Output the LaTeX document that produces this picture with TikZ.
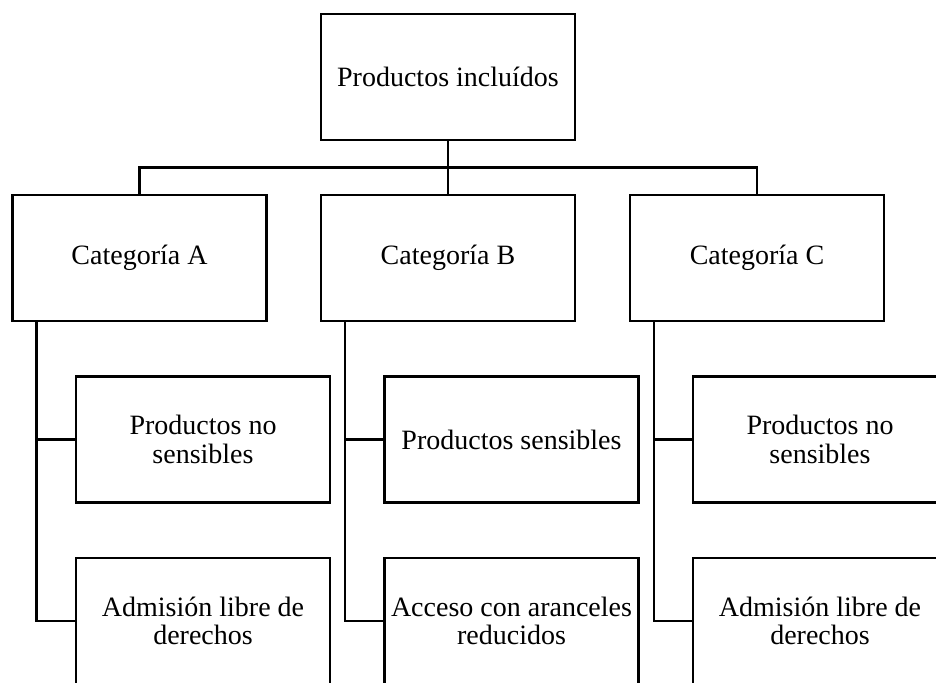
\documentclass[tikz,border=0pt]{standalone}
\usepackage{fontspec}
\setmainfont{Liberation Serif}
\begin{document}
\begin{tikzpicture}[x=1pt,y=-1pt,
  box/.style={draw=black,line width=2.4pt,fill=white,minimum width=254pt,minimum height=126pt,inner sep=0pt,align=center,font=\fontsize{28}{28.5}\selectfont},
  conn/.style={draw=black,line width=2.4pt}]
\clip (0,0) rectangle (936,682);
\useasboundingbox (0,0) rectangle (936,682);
\fill[white] (0,0) rectangle (936,682);
\node[box] (top) at (448,77) {Productos incluídos};
\node[box] (A) at (139.5,258) {Categoría A};
\node[box] (B) at (448,258) {Categoría B};
\node[box] (C) at (757,258) {Categoría C};
\node[box] (A1) at (203,439.5) {Productos no\\sensibles};
\node[box] (A2) at (203,621) {Admisión libre de\\derechos};
\node[box] (B1) at (511.5,439.5) {Productos sensibles};
\node[box] (B2) at (511.5,621) {Acceso con aranceles\\reducidos};
\node[box] (C1) at (820,439.5) {Productos no\\sensibles};
\node[box] (C2) at (820,621) {Admisión libre de\\derechos};
\coordinate (bus) at (448,167.5);
\draw[conn] (top.south) -- (B.north);
\draw[conn] (A.north) -- (A.north |- bus) -- (C.north |- bus) -- (C.north);
\foreach \p in {A,B,C}{
  \coordinate (\p v) at ([xshift=25pt]\p.south west);
  \draw[conn] (\p v) |- (\p 2.west);
  \draw[conn] (\p v |- \p 1.west) -- (\p 1.west);
}
\end{tikzpicture}
\end{document}
